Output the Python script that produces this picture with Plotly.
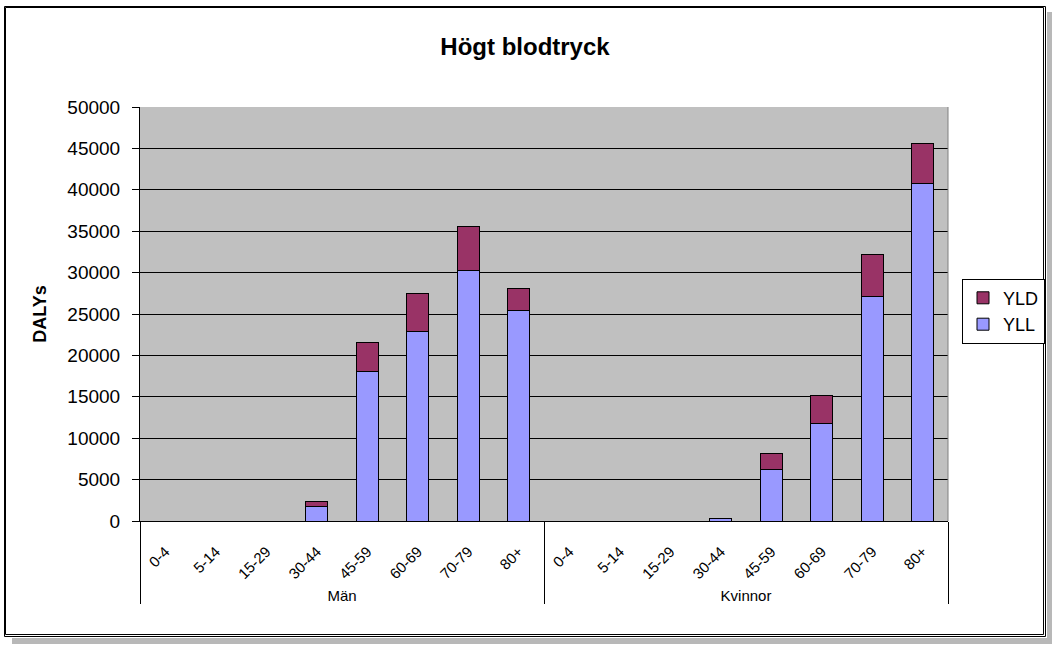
import plotly.graph_objects as go

groups = ["Män"] * 8 + ["Kvinnor"] * 8
ages = ["0-4", "5-14", "15-29", "30-44", "45-59", "60-69", "70-79", "80+"] * 2
yll = [0, 0, 0, 1800, 18100, 22900, 30200, 25400,
       0, 0, 0, 250, 6200, 11750, 27100, 40800]
yld = [0, 0, 0, 600, 3500, 4600, 5400, 2650,
       0, 0, 0, 80, 2000, 3350, 5100, 4800]

x = [groups, ages]
fig = go.Figure()
fig.add_trace(go.Bar(x=x, y=yll, name="YLL", marker=dict(color="#9999FF", line=dict(color="black", width=1))))
fig.add_trace(go.Bar(x=x, y=yld, name="YLD", marker=dict(color="#993366", line=dict(color="black", width=1))))

L, R, T, B = 140, 948, 107, 521
W, H = R - L, B - T


def px(v):
    return (v - L) / W


def py(v):
    return (B - v) / H


fig.update_layout(
    barmode="stack",
    bargap=0.56,
    width=1058, height=650,
    margin=dict(l=L, r=1058 - R, t=T, b=650 - B),
    paper_bgcolor="white",
    plot_bgcolor="#C0C0C0",
    font=dict(family="Liberation Sans, Arial", size=16, color="black"),
    title=dict(text="<b>Högt blodtryck</b>", x=525 / 1058, xanchor="center", y=1 - 47 / 650, yanchor="middle",
               font=dict(size=24)),
    legend=dict(x=px(962), xanchor="left", y=0.507, yanchor="middle", bordercolor="black", borderwidth=1,
                font=dict(size=18), traceorder="reversed", itemwidth=30, tracegroupgap=4),
    showlegend=True,
)
fig.update_yaxes(range=[0, 50000], dtick=5000, tickformat="d", showgrid=True, gridcolor="black", gridwidth=1,
                 showline=True, linecolor="black", ticks="outside", ticklen=7, tickcolor="black",
                 tickfont=dict(size=19), ticklabelstandoff=8,
                 title=dict(text="<b>DALYs</b>", font=dict(size=18), standoff=16),
                 zeroline=False)
fig.update_xaxes(type="multicategory", tickangle=-45, tickfont=dict(size=15),
                 showline=True, linecolor="black", showdividers=True, dividercolor="black",
                 dividerwidth=1, ticklabelstandoff=15)

# outer frame with double line and shadow
fig.add_shape(type="rect", xref="paper", yref="paper", x0=px(1047), x1=px(1052), y0=py(644), y1=py(12),
              line=dict(width=0), fillcolor="#B8B8B8")
fig.add_shape(type="rect", xref="paper", yref="paper", x0=px(12), x1=px(1052), y0=py(644), y1=py(638),
              line=dict(width=0), fillcolor="#B8B8B8")
fig.add_shape(type="rect", xref="paper", yref="paper", x0=px(4.5), x1=px(1045.5), y0=py(636.5), y1=py(6.5),
              line=dict(color="black", width=1))
fig.add_shape(type="rect", xref="paper", yref="paper", x0=px(5.5), x1=px(1043.5), y0=py(634.5), y1=py(7.5),
              line=dict(color="black", width=1))
fig.add_shape(type="line", xref="paper", yref="paper", x0=1.0, x1=1.0, y0=0, y1=1,
              line=dict(color="#808080", width=1))
fig.write_html("out.html")
